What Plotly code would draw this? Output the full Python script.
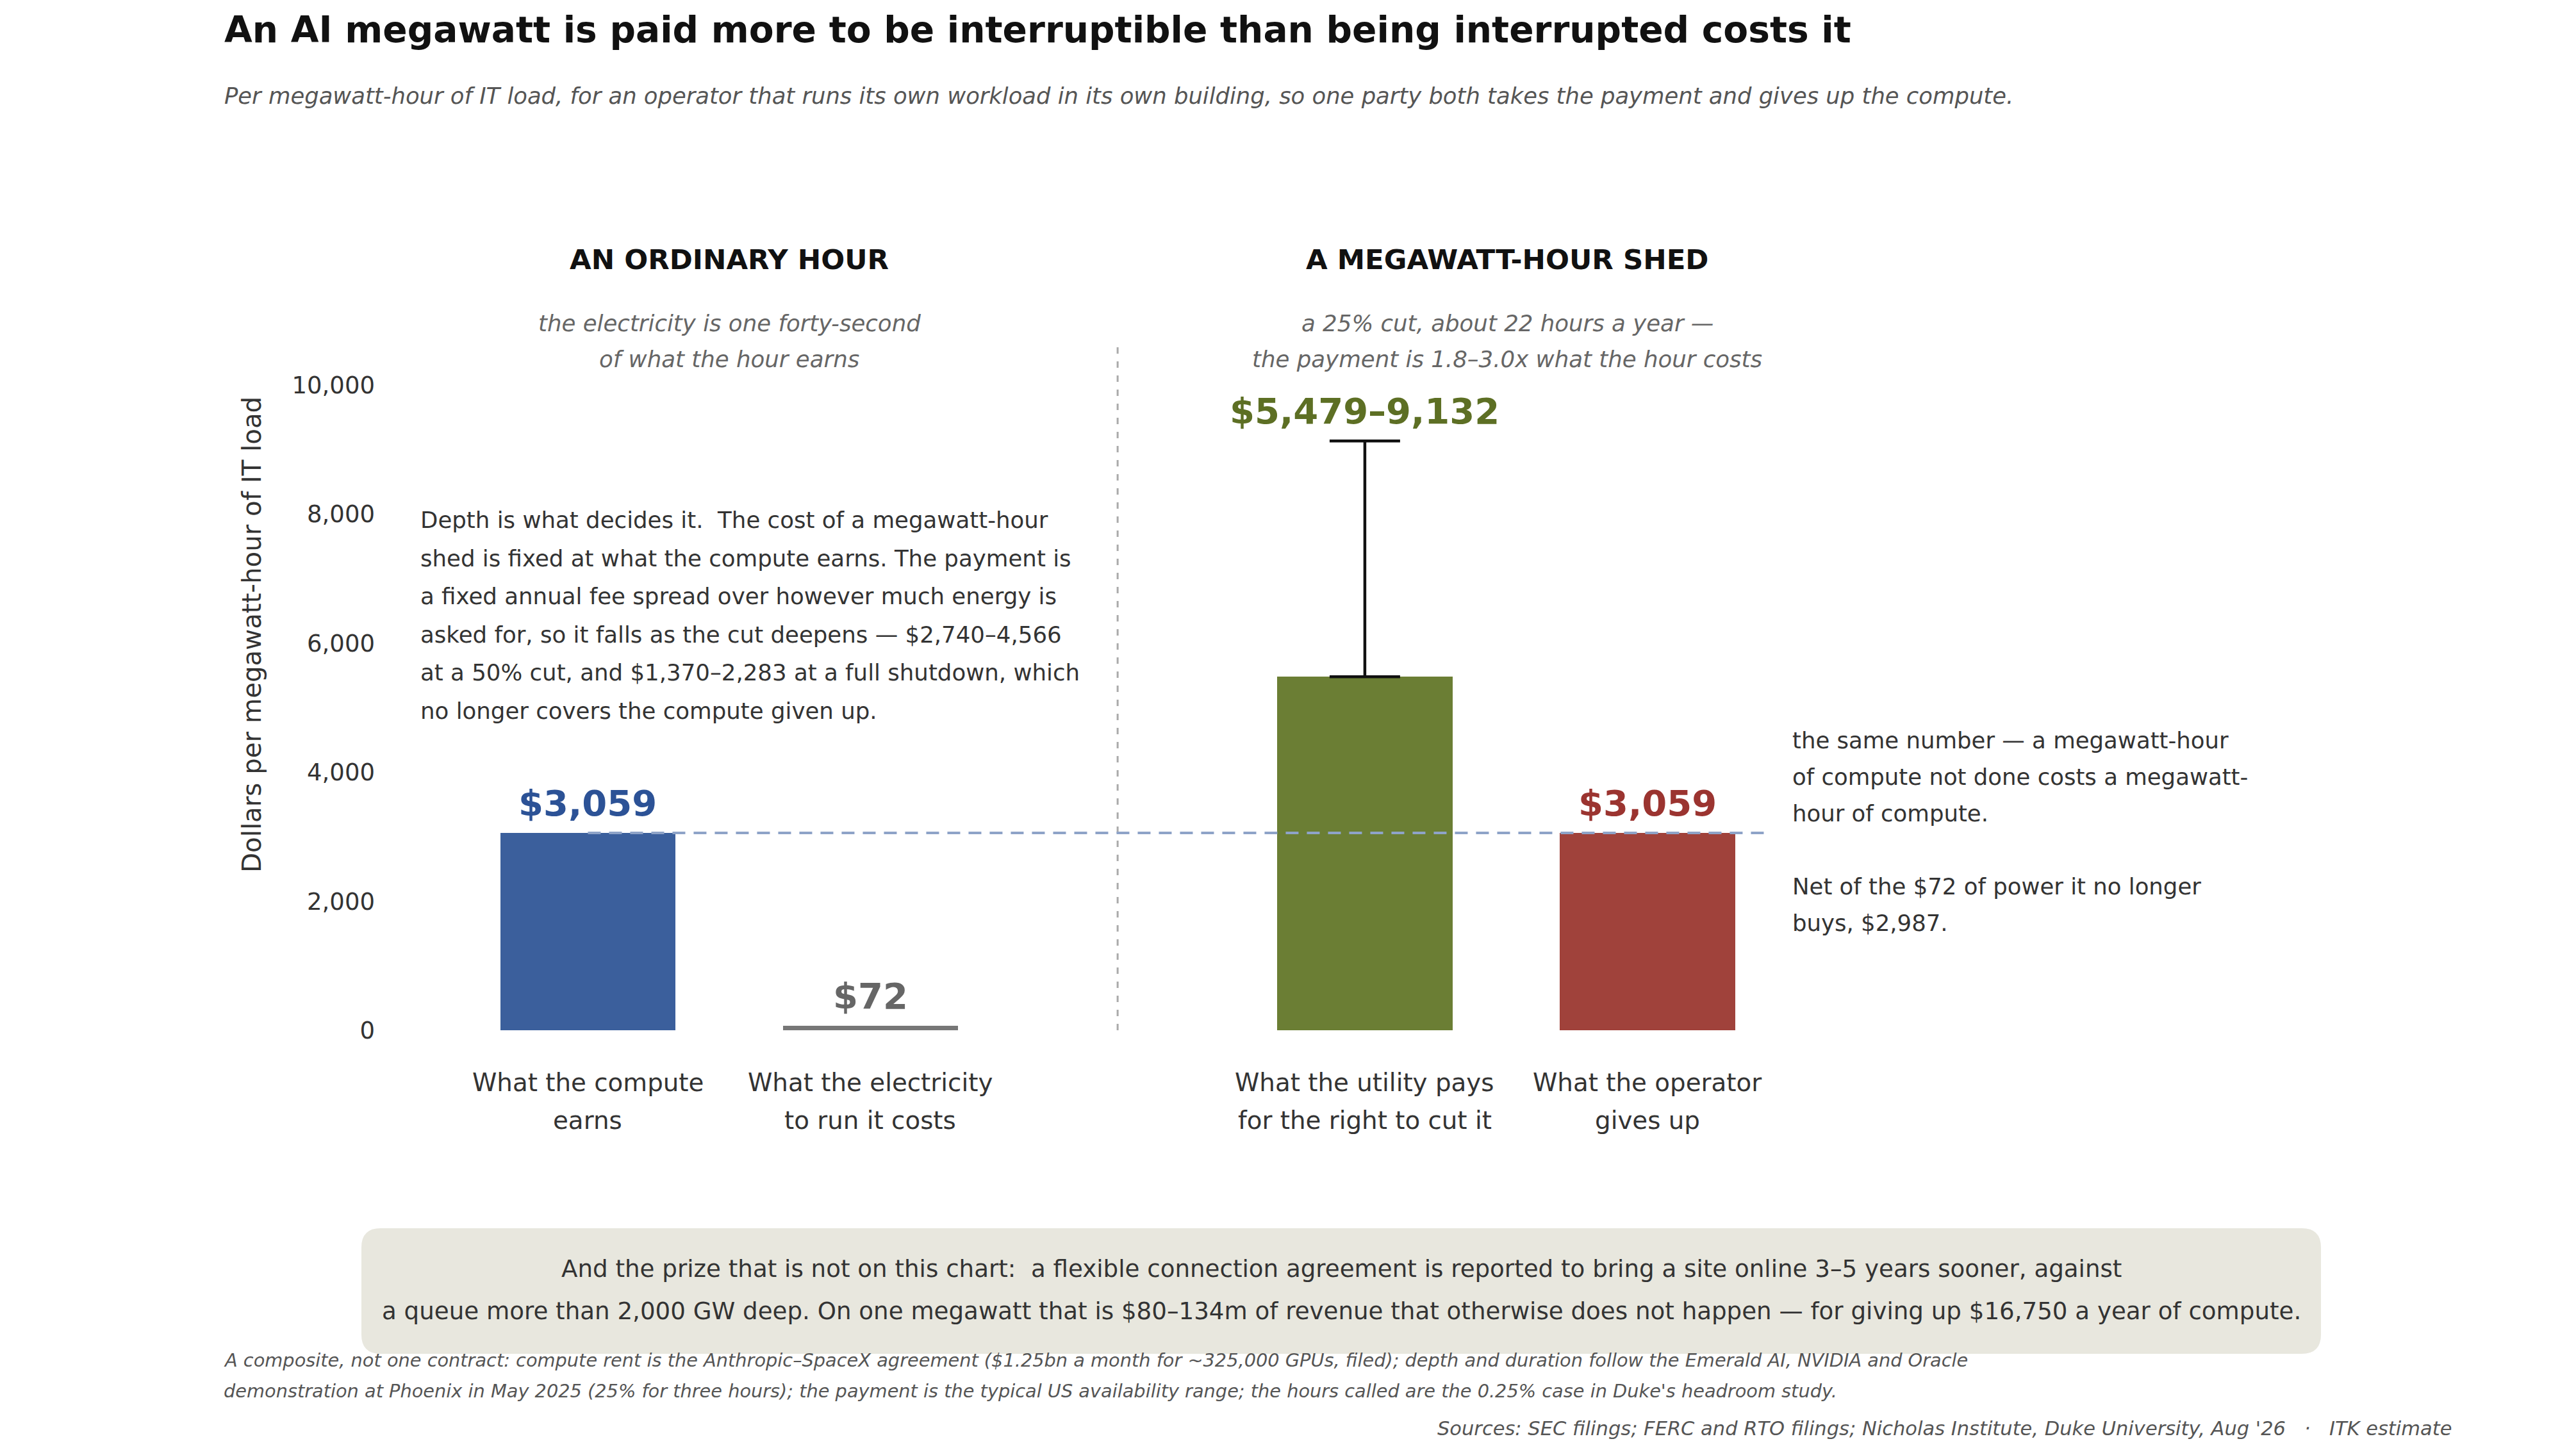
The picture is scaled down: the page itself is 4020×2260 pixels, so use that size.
import plotly.graph_objects as go

# values, dollars per MWh of IT load
categories = [
    ["What the compute", "earns"],
    ["What the electricity", "to run it costs"],
    ["What the utility pays", "for the right to cut it"],
    ["What the operator", "gives up"],
]
values = [3059, 72, 5479, 3059]
payment_low = 5479
payment_high = 9132
compute_value = 3059
y_ticks = [0, 2000, 4000, 6000, 8000, 10000]

bar_colors = ["#3b5f9c", "#777777", "#6b7e34", "#a0423b"]
label_colors = ["#2c5296", "#666666", "#5d6f24", "#9b3430"]
positions = [0, 1, 2.75, 3.75]

panel_titles = ["AN ORDINARY HOUR", "A MEGAWATT-HOUR SHED"]
panel_notes = [
    ["the electricity is one forty-second", "of what the hour earns"],
    ["a 25% cut, about 22 hours a year \u2014", "the payment is 1.8\u20133.0x what the hour costs"],
]
depth_note = [
    "Depth is what decides it.\u00a0 The cost of a megawatt-hour",
    "shed is fixed at what the compute earns. The payment is",
    "a fixed annual fee spread over however much energy is",
    "asked for, so it falls as the cut deepens \u2014 $2,740\u20134,566",
    "at a 50% cut, and $1,370\u20132,283 at a full shutdown, which",
    "no longer covers the compute given up.",
]
side_note = [
    "the same number \u2014 a megawatt-hour",
    "of compute not done costs a megawatt-",
    "hour of compute.",
    "",
    "Net of the $72 of power it no longer",
    "buys, $2,987.",
]
box_lines = [
    "And the prize that is not on this chart:\u00a0 a flexible connection agreement is reported to bring a site online 3\u20135 years sooner, against",
    "a queue more than 2,000 GW deep. On one megawatt that is $80\u2013134m of revenue that otherwise does not happen \u2014 for giving up $16,750 a year of compute.",
]
footnote = [
    "A composite, not one contract: compute rent is the Anthropic\u2013SpaceX agreement ($1.25bn a month for ~325,000 GPUs, filed); depth and duration follow the Emerald AI, NVIDIA and Oracle",
    "demonstration at Phoenix in May 2025 (25% for three hours); the payment is the typical US availability range; the hours called are the 0.25% case in Duke's headroom study.",
]
sources = "Sources: SEC filings; FERC and RTO filings; Nicholas Institute, Duke University, Aug '26\u00a0\u00a0 \u00b7 \u00a0\u00a0ITK estimate"

FONT = "DejaVu Sans"
FIG_W, FIG_H = 4020, 2260
OFF = 8                              # page body margin
L, R, T, B = 600, 2756, 538, 1608    # plot area, screen pixels
PW, PH = R - L, B - T
x_range = [-0.72, 4.17]
y_range = [0, 10625]


def px_x(px):
    return (px - L) / PW


def px_y(py):
    return (B - py) / PH


annotations = []


def text_line(text, x, base, size, color, anchor="left", weight="normal", style="normal"):
    # place a single line by its baseline, in screen pixels
    annotations.append(dict(
        text=text, xref="paper", yref="paper", x=px_x(x), y=px_y(base - 0.35 * size),
        xanchor=anchor, yanchor="middle", showarrow=False,
        font=dict(family=FONT, size=size, color=color, weight=weight, style=style),
    ))


fig = go.Figure()

fig.add_trace(go.Bar(
    x=positions, y=values, width=0.62,
    marker=dict(color=bar_colors, line=dict(width=0)),
    hoverinfo="skip", showlegend=False,
))

# payment range whisker on the utility bar
fig.add_trace(go.Scatter(
    x=[positions[2]], y=[payment_low], mode="markers",
    marker=dict(size=1, opacity=0),
    error_y=dict(type="data", symmetric=False, array=[payment_high - payment_low],
                 arrayminus=[0], color="#111111", thickness=4.5, width=55),
    hoverinfo="skip", showlegend=False,
))

# value labels
for i, v in enumerate(values):
    if i == 2:
        txt, top = "${:,}\u2013{:,}".format(payment_low, payment_high), payment_high
    else:
        txt, top = "${:,}".format(v), v
    annotations.append(dict(
        text=txt, x=positions[i], y=top, xref="x", yref="y",
        yanchor="bottom", yshift=12, showarrow=False,
        font=dict(family=FONT, size=56, color=label_colors[i], weight="bold"),
    ))

# category labels under the bars
for i, lines in enumerate(categories):
    for k, line in enumerate(lines):
        annotations.append(dict(
            text=line, x=positions[i], xref="x", yref="paper",
            y=px_y(1703 + 59 * k - 0.35 * 38.8), xanchor="center", yanchor="middle",
            showarrow=False, font=dict(family=FONT, size=38.8, color="#333333"),
        ))

# panel headings and notes
centers = [1138, 2352]
for c, head, notes in zip(centers, panel_titles, panel_notes):
    text_line(head, c, 420, 43.5, "#111111", anchor="center", weight="bold")
    for k, line in enumerate(notes):
        text_line(line, c, 517 + 56 * k, 35.6, "#666666", anchor="center", style="italic")

for k, line in enumerate(depth_note):
    text_line(line, 654, 824 + 59.5 * k, 35.6, "#333333")

for k, line in enumerate(side_note):
    if line:
        text_line(line, 2795, 1168 + 57 * k, 35.5, "#333333")

# title block
text_line("An AI megawatt is paid more to be interruptible than being interrupted costs it",
          348, 66, 56.6, "#111111", weight="bold")
text_line("Per megawatt-hour of IT load, for an operator that runs its own workload in its own building, "
          "so one party both takes the payment and gives up the compute.",
          348, 162, 35.4, "#555555", style="italic")

# y axis title
annotations.append(dict(
    text="Dollars per megawatt-hour of IT load", xref="paper", yref="paper",
    x=px_x(393), y=px_y(991), textangle=-90, xanchor="center", yanchor="middle",
    showarrow=False, font=dict(family=FONT, size=40.3, color="#333333"),
))

# bottom callout box
bx0, bx1, by0, by1, rad = 564, 3622, 1917, 2113, 30
pts = [
    ("M", bx0 + rad, by0), ("L", bx1 - rad, by0), ("Q", bx1, by0, bx1, by0 + rad),
    ("L", bx1, by1 - rad), ("Q", bx1, by1, bx1 - rad, by1), ("L", bx0 + rad, by1),
    ("Q", bx0, by1, bx0, by1 - rad), ("L", bx0, by0 + rad), ("Q", bx0, by0, bx0 + rad, by0),
]
path = ""
for p in pts:
    coords = p[1:]
    seg = []
    for j in range(0, len(coords), 2):
        seg.append("{:.5f},{:.5f}".format(px_x(coords[j]), px_y(coords[j + 1])))
    path += p[0] + " ".join(seg) + " "
path += "Z"

shapes = [
    dict(type="path", path=path, xref="paper", yref="paper",
         fillcolor="#e8e7de", line=dict(width=0), layer="below"),
    # divider between the two panels
    dict(type="line", xref="x", yref="paper",
         x0=(positions[1] + positions[2]) / 2, x1=(positions[1] + positions[2]) / 2, y0=0, y1=1,
         line=dict(color="#aaaaaa", width=3, dash="10px,12px")),
    # compute value reference line
    dict(type="line", xref="x", yref="y", x0=positions[0], x1=x_range[1],
         y0=compute_value, y1=compute_value,
         line=dict(color="#8ea3c8", width=4, dash="20px,13px"), layer="above"),
]

for k, line in enumerate(box_lines):
    text_line(line, 2093, 1993 + 66 * k, 37.2, "#333333", anchor="center")

for k, line in enumerate(footnote):
    text_line(line, 347, 2133 + 48 * k, 28.8, "#555555", style="italic")
text_line(sources, 3828, 2240, 30.5, "#555555", anchor="right", style="italic")

fig.update_layout(
    width=FIG_W, height=FIG_H, autosize=False,
    margin=dict(l=L - OFF, r=FIG_W - R + OFF, t=T - OFF, b=FIG_H - B + OFF, pad=0),
    paper_bgcolor="white", plot_bgcolor="white",
    bargap=0, showlegend=False,
    annotations=annotations, shapes=shapes,
    font=dict(family=FONT, color="#333333"),
)
fig.update_xaxes(range=x_range, showgrid=False, zeroline=False, showticklabels=False,
                 showline=False, ticks="")
fig.update_yaxes(range=y_range, tickvals=y_ticks, tickformat=",", showgrid=False,
                 zeroline=False, showline=False, ticks="", ticklabelstandoff=14,
                 tickfont=dict(family=FONT, size=37, color="#333333"))

fig.write_html("out.html")
